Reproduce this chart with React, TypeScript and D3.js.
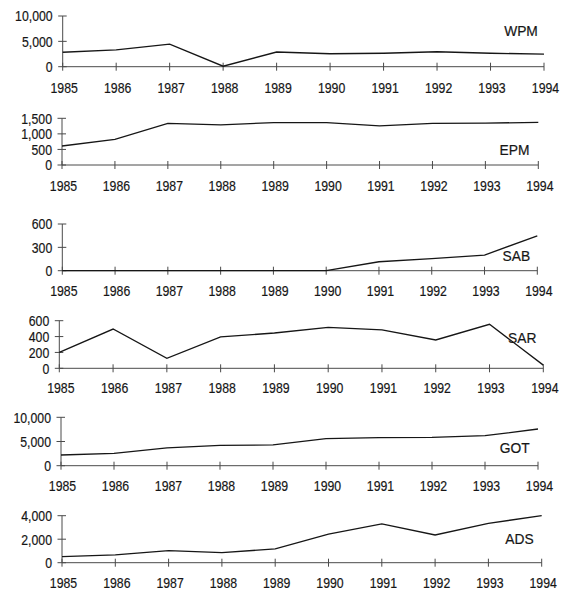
import * as d3 from "d3";

const years = [1985, 1986, 1987, 1988, 1989, 1990, 1991, 1992, 1993, 1994];

const wpm = [2850, 3300, 4450, 100, 2900, 2550, 2650, 2950, 2650, 2500];
const epm = [610, 825, 1340, 1290, 1360, 1360, 1255, 1340, 1345, 1370];
const sab = [0, 0, 0, 0, 0, 0, 115, 155, 200, 448];
const sar = [200, 495, 126, 395, 445, 515, 485, 357, 555, 40];
const got = [2210, 2560, 3700, 4200, 4300, 5600, 5790, 5870, 6200, 7580];
const ads = [510, 660, 1020, 860, 1170, 2430, 3300, 2360, 3350, 4000];

const wpmTicks = [0, 5000, 10000];
const epmTicks = [0, 500, 1000, 1500];
const sabTicks = [0, 300, 600];
const sarTicks = [0, 200, 400, 600];
const gotTicks = [0, 5000, 10000];
const adsTicks = [0, 2000, 4000];

// layout per panel: axis corners, year label row, series label spot
const panels = [
  { name: "WPM", values: wpm, ticks: wpmTicks, x0: 62.7, x1: 544, yTop: 16, y0: 66.7, yearY: 87.5, lx: 521, ly: 31 },
  { name: "EPM", values: epm, ticks: epmTicks, x0: 62, x1: 538.3, yTop: 118.3, y0: 165, yearY: 185.5, lx: 514.5, ly: 149.5 },
  { name: "SAB", values: sab, ticks: sabTicks, x0: 62.3, x1: 537.3, yTop: 224, y0: 270.7, yearY: 290.7, lx: 516.3, ly: 255.7 },
  { name: "SAR", values: sar, ticks: sarTicks, x0: 59.3, x1: 543.3, yTop: 320.7, y0: 368.3, yearY: 388, lx: 522.3, ly: 337.2 },
  { name: "GOT", values: got, ticks: gotTicks, x0: 61, x1: 538, yTop: 417.3, y0: 465.7, yearY: 485.2, lx: 514.7, ly: 447.2 },
  { name: "ADS", values: ads, ticks: adsTicks, x0: 62, x1: 541.7, yTop: 515.7, y0: 562.7, yearY: 582.8, lx: 519.5, ly: 538.7 },
];

const font = "'Liberation Sans', Arial, sans-serif";
const fmt = d3.format(",");
const ink = "#161616";
const axisInk = "#4a4a4a";

// the scanned lettering is narrow, so squeeze it horizontally
function Label({ x, y, anchor, squeeze, children }: any) {
  return (
    <text
      transform={`translate(${x},${y}) scale(${squeeze},1)`}
      dy="0.36em"
      textAnchor={anchor}
      fontSize={15}
      fill={ink}
      stroke={ink}
      strokeWidth={0.2}
    >
      {children}
    </text>
  );
}

function Panel({ p }: { p: (typeof panels)[number] }) {
  const x = d3.scalePoint<number>().domain(years).range([p.x0, p.x1]);
  const y = d3
    .scaleLinear()
    .domain([0, p.ticks[p.ticks.length - 1]])
    .range([p.y0, p.yTop]);
  const line = d3
    .line<number>()
    .x((_, i) => x(years[i]) as number)
    .y((v) => y(v));

  return (
    <g>
      <line x1={p.x0} x2={p.x0} y1={p.y0} y2={p.yTop} stroke={axisInk} />
      <line x1={p.x0} x2={p.x1} y1={p.y0} y2={p.y0} stroke={axisInk} />
      {p.ticks.map((t) => (
        <g key={t}>
          <line x1={p.x0 - 4.5} x2={p.x0 + 4} y1={y(t)} y2={y(t)} stroke={axisInk} />
          <Label x={p.x0 - 10} y={y(t)} anchor="end" squeeze={0.82}>
            {fmt(t)}
          </Label>
        </g>
      ))}
      {years.map((yr) => (
        <g key={yr}>
          <line x1={x(yr)} x2={x(yr)} y1={p.y0 - 4} y2={p.y0 + 4} stroke={axisInk} />
          <Label x={(x(yr) as number) + 1.5} y={p.yearY} anchor="middle" squeeze={0.82}>
            {yr}
          </Label>
        </g>
      ))}
      <path d={line(p.values) ?? ""} fill="none" stroke={ink} strokeWidth={1.3} />
      <Label x={p.lx} y={p.ly} anchor="middle" squeeze={0.92}>
        {p.name}
      </Label>
    </g>
  );
}

export default function App() {
  return (
    <svg
      width={569}
      height={591}
      style={{ position: "absolute", left: 0, top: 0, background: "#fff", fontFamily: font }}
    >
      {panels.map((p) => (
        <Panel key={p.name} p={p} />
      ))}
    </svg>
  );
}
